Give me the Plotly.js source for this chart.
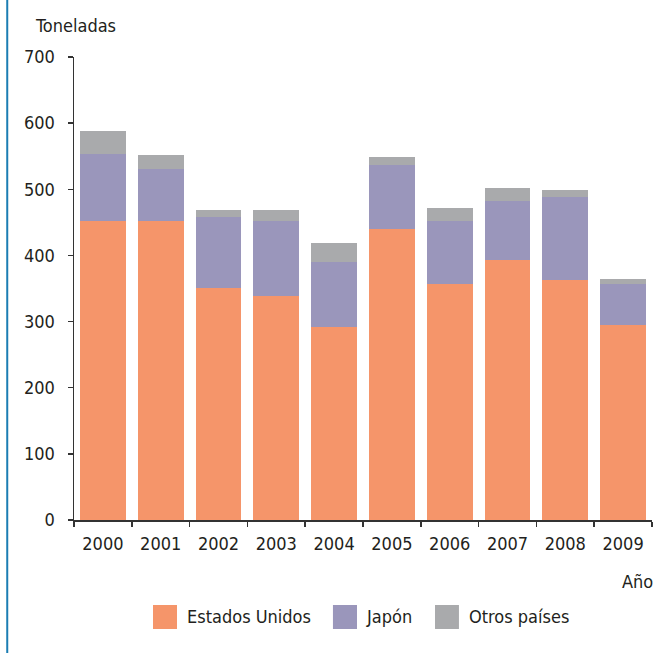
<!DOCTYPE html>
<html>
<head>
<meta charset="utf-8">
<script src="https://cdn.plot.ly/plotly-3.0.1.min.js"></script>
<style>
html,body{margin:0;padding:0;background:#fff;}
#chart{width:660px;height:653px;}
</style>
</head>
<body>
<div id="chart"></div>
<script>
var years = ["2000","2001","2002","2003","2004","2005","2006","2007","2008","2009"];
var estadosUnidos = [452, 452, 351, 339, 292, 440, 357, 393, 363, 295];
var japon = [102, 78, 107, 113, 98, 96, 95, 90, 126, 62];
var otrosPaises = [34, 22, 11, 17, 29, 13, 20, 19, 10, 8];
var seriesNames = ["Estados Unidos", "Japón", "Otros países"];
var seriesColors = ["#F5956A", "#9A96BB", "#A9AAAC"];
var yTicks = [0, 100, 200, 300, 400, 500, 600, 700];

var FONT = "'DejaVu Sans Condensed', 'DejaVu Sans', sans-serif";
var FS = 18;
var TXT = "#231f20";

var seriesData = [estadosUnidos, japon, otrosPaises];
var traces = seriesData.map(function (vals, i) {
  return {
    type: "bar",
    x: years,
    y: vals,
    name: seriesNames[i],
    marker: { color: seriesColors[i], line: { width: 0 } },
    showlegend: false,
    hoverinfo: "x+y+name"
  };
});

// manual legend (large squares)
var legSq = [[0.1367, 0.1782], [0.448, 0.4896], [0.6246, 0.666]];
var legTx = [0.192, 0.5017, 0.680];
var shapes = [{
  type: "line", xref: "paper", yref: "paper",
  x0: -0.1155, x1: -0.1155, y0: 1.13, y1: -0.29,
  line: { color: "#1b7db3", width: 2 }
}];
var annotations = [
  { text: "Toneladas", xref: "paper", yref: "paper", x: -0.0709, y: 1.069,
    xanchor: "left", yanchor: "middle", showarrow: false, font: { family: FONT, size: FS, color: TXT } },
  { text: "Año", xref: "paper", yref: "paper", x: 1.005, y: -0.1318,
    xanchor: "right", yanchor: "middle", showarrow: false, font: { family: FONT, size: FS, color: TXT } }
];
seriesNames.forEach(function (n, i) {
  shapes.push({ type: "rect", xref: "paper", yref: "paper",
    x0: legSq[i][0], x1: legSq[i][1], y0: -0.1836, y1: -0.2354,
    fillcolor: seriesColors[i], line: { width: 0 } });
  annotations.push({ text: n, xref: "paper", yref: "paper", x: legTx[i], y: -0.2095,
    xanchor: "left", yanchor: "middle", showarrow: false,
    font: { family: FONT, size: FS, color: TXT } });
});

var layout = {
  width: 660, height: 653,
  margin: { l: 74, r: 8, t: 57, b: 133 },
  paper_bgcolor: "#ffffff", plot_bgcolor: "#ffffff",
  barmode: "stack",
  bargap: 0.205,
  font: { family: FONT, size: FS, color: TXT },
  xaxis: {
    type: "category",
    showgrid: false, zeroline: false,
    showline: true, linecolor: "#333333", linewidth: 1.5,
    ticks: "outside", tickson: "boundaries", ticklen: 5, tickwidth: 1.5, tickcolor: "#333333",
    tickfont: { family: FONT, size: FS, color: TXT },
    ticklabelstandoff: 7,
    fixedrange: true
  },
  yaxis: {
    range: [0, 700],
    tickvals: yTicks,
    ticktext: yTicks.map(String),
    showgrid: false, zeroline: false,
    showline: true, linecolor: "#333333", linewidth: 1.5,
    ticks: "outside", ticklen: 5, tickwidth: 1.5, tickcolor: "#333333",
    tickfont: { family: FONT, size: FS, color: TXT },
    ticklabelstandoff: 9,
    fixedrange: true
  },
  shapes: shapes,
  annotations: annotations
};

Plotly.newPlot("chart", traces, layout, { displayModeBar: false, staticPlot: true });
</script>
</body>
</html>
